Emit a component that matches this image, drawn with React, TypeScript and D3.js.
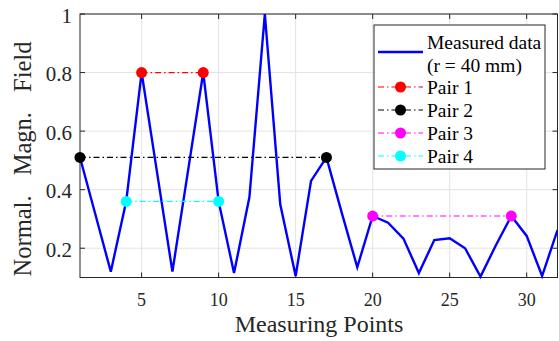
import React from "react";
import * as d3 from "d3";

const measuringPoints = d3.range(1, 33);
const measuredValues = [
  0.51, 0.315, 0.12, 0.36, 0.8, 0.46, 0.12, 0.46, 0.8, 0.36,
  0.115, 0.375, 1.0, 0.35, 0.105, 0.43, 0.51, 0.32, 0.135, 0.31,
  0.287, 0.233, 0.115, 0.228, 0.234, 0.2, 0.103, 0.21, 0.31, 0.242,
  0.105, 0.262,
];
const pairNames = ["Pair 1", "Pair 2", "Pair 3", "Pair 4"];
const pairColors = ["#ff0000", "#000000", "#ff00ff", "#00ffff"];
const pairStart = [5, 1, 20, 4];
const pairEnd = [9, 17, 29, 10];
const pairValues = [0.8, 0.51, 0.31, 0.36];
const xTicks = [5, 10, 15, 20, 25, 30];
const yTicks = [0.2, 0.4, 0.6, 0.8, 1];

const W = 559;
const H = 341;
const M = { left: 80, right: 557.5, top: 14, bottom: 277.5 };
const axisColor = "#262626";
const gridColor = "#e3e3e3";
const dashDot = "6,3,1.5,3";
const FONT = "Liberation Serif";

export default function App() {
  const x = d3.scaleLinear().domain([1, 32]).range([M.left, M.right]);
  const y = d3.scaleLinear().domain([0.1, 1]).range([M.bottom, M.top]);
  const line = d3
    .line<number>()
    .x((_, i) => x(measuringPoints[i]))
    .y((d) => y(d));
  const tickLen = 5;

  const legendX0 = 374;
  const legendY0 = 25;
  const legendW = 171;
  const legendH = 144;
  const rowYs = [87, 110, 133, 156];

  return (
    <svg
      width={W}
      height={H}
      style={{ position: "absolute", left: 0, top: 0, background: "#fff", fontFamily: FONT }}
    >
      <rect x={0} y={0} width={W} height={H} fill="#fff" />
      <defs>
        <clipPath id="plotclip">
          <rect x={M.left} y={M.top - 2} width={M.right - M.left} height={M.bottom - M.top + 4} />
        </clipPath>
      </defs>
      {xTicks.map((t) => (
        <line key={"gx" + t} x1={x(t)} x2={x(t)} y1={M.top} y2={M.bottom} stroke={gridColor} strokeWidth={1} />
      ))}
      {yTicks.map((t) => (
        <line key={"gy" + t} x1={M.left} x2={M.right} y1={y(t)} y2={y(t)} stroke={gridColor} strokeWidth={1} />
      ))}
      <rect
        x={M.left}
        y={M.top}
        width={M.right - M.left}
        height={M.bottom - M.top}
        fill="none"
        stroke={axisColor}
        strokeWidth={1}
      />
      {xTicks.map((t) => (
        <g key={"tx" + t}>
          <line x1={x(t)} x2={x(t)} y1={M.bottom} y2={M.bottom - tickLen} stroke={axisColor} />
          <line x1={x(t)} x2={x(t)} y1={M.top} y2={M.top + tickLen} stroke={axisColor} />
          <text x={x(t)} y={306} textAnchor="middle" fontSize={18} fill={axisColor} style={{ fontFamily: FONT }}>
            {t}
          </text>
        </g>
      ))}
      {yTicks.map((t) => (
        <g key={"ty" + t}>
          <line x1={M.left} x2={M.left + tickLen} y1={y(t)} y2={y(t)} stroke={axisColor} />
          <line x1={M.right} x2={M.right - tickLen} y1={y(t)} y2={y(t)} stroke={axisColor} />
          <text x={72} y={y(t) + 8.5} textAnchor="end" fontSize={21} fill={axisColor} style={{ fontFamily: FONT }}>
            {t === 1 ? "1" : t.toFixed(1)}
          </text>
        </g>
      ))}
      <g clipPath="url(#plotclip)">
        <path d={line(measuredValues) || ""} fill="none" stroke="#0000ff" strokeWidth={2.4} strokeLinejoin="miter" />
      </g>
      {pairNames.map((n, i) => (
        <g key={n}>
          <line
            x1={x(pairStart[i])}
            x2={x(pairEnd[i])}
            y1={y(pairValues[i])}
            y2={y(pairValues[i])}
            stroke={pairColors[i]}
            strokeWidth={1.2}
            strokeDasharray={dashDot}
          />
          <circle cx={x(pairStart[i])} cy={y(pairValues[i])} r={5.5} fill={pairColors[i]} />
          <circle cx={x(pairEnd[i])} cy={y(pairValues[i])} r={5.5} fill={pairColors[i]} />
        </g>
      ))}
      <text x={319} y={332} textAnchor="middle" fontSize={24} fill={axisColor} style={{ fontFamily: FONT }}>
        Measuring Points
      </text>
      <text
        transform={`translate(31,159) rotate(-90)`}
        textAnchor="middle"
        fontSize={24.5}
        fill={axisColor}
        style={{ fontFamily: FONT, wordSpacing: "14px" }}
      >
        Normal. Magn. Field
      </text>
      <rect x={legendX0} y={legendY0} width={legendW} height={legendH} fill="#fff" stroke={axisColor} strokeWidth={1} />
      <line x1={378} x2={423} y1={52} y2={52} stroke="#0000ff" strokeWidth={2.4} />
      <text x={427} y={48.5} fontSize={19.5} fill="#000" style={{ fontFamily: FONT }}>
        Measured data
      </text>
      <text x={427} y={71.5} fontSize={19.5} fill="#000" style={{ fontFamily: FONT }}>
        (r = 40 mm)
      </text>
      {pairNames.map((n, i) => (
        <g key={"lg" + n}>
          <line x1={378} x2={423} y1={rowYs[i]} y2={rowYs[i]} stroke={pairColors[i]} strokeWidth={1.2} strokeDasharray={dashDot} />
          <circle cx={400.5} cy={rowYs[i]} r={5.5} fill={pairColors[i]} />
          <text x={427} y={rowYs[i] + 6.5} fontSize={19.5} fill="#000" style={{ fontFamily: FONT }}>
            {n}
          </text>
        </g>
      ))}
    </svg>
  );
}
